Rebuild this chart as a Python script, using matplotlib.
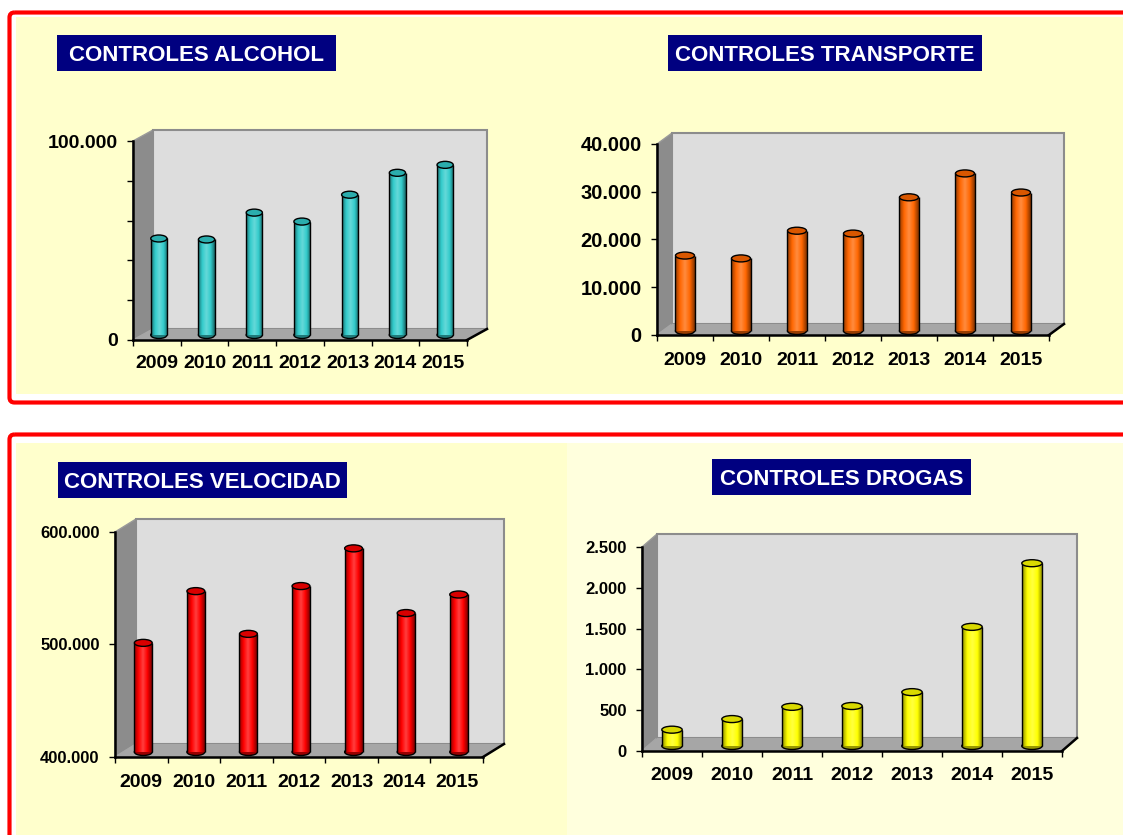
import numpy as np
import matplotlib.pyplot as plt
from matplotlib.patches import Rectangle, Ellipse, Polygon, FancyBboxPatch
from matplotlib.colors import LinearSegmentedColormap

plt.rcParams['font.family'] = ['Liberation Sans', 'DejaVu Sans']
plt.rcParams['font.weight'] = 'bold'

# data
years = ['2009', '2010', '2011', '2012', '2013', '2014', '2015']
alcohol = [48500, 48000, 61500, 57000, 70500, 81500, 85500]
transporte = [15800, 15200, 21000, 20400, 28000, 33000, 29000]
velocidad = [497000, 543000, 505000, 547500, 581000, 523500, 540000]
drogas = [200, 330, 480, 490, 660, 1460, 2240]

alcohol_ticks = [0, 20000, 40000, 60000, 80000, 100000]
alcohol_labels = ['0', '', '', '', '', '100.000']
transporte_ticks = [0, 10000, 20000, 30000, 40000]
transporte_labels = ['0', '10.000', '20.000', '30.000', '40.000']
velocidad_ticks = [400000, 500000, 600000]
velocidad_labels = ['400.000', '500.000', '600.000']
drogas_ticks = [0, 500, 1000, 1500, 2000, 2500]
drogas_labels = ['0', '500', '1.000', '1.500', '2.000', '2.500']

W, H = 1123, 835
fig = plt.figure(figsize=(W / 100, H / 100), dpi=100)

# background axes in pixel coords
bg = fig.add_axes([0, 0, 1, 1])
bg.set_xlim(0, W)
bg.set_ylim(H, 0)
bg.axis('off')
bg.add_patch(Rectangle((16, 17), W, 377, color='#FFFFCC', lw=0))
bg.add_patch(Rectangle((16, 443), 551, 400, color='#FFFFCC', lw=0))
bg.add_patch(Rectangle((567, 443), W, 400, color='#FFFFDD', lw=0))
for top, hgt in [(12.5, 390), (434.5, 500)]:
    bg.add_patch(FancyBboxPatch((9.5, top), 1140, hgt, boxstyle='round,pad=0,rounding_size=5',
                                fill=False, edgecolor='#FF0000', lw=3))


def title_box(text, x0, y0, x1, y1):
    bg.add_patch(Rectangle((x0, y0), x1 - x0, y1 - y0, color='#000080', lw=0))
    bg.text((x0 + x1) / 2, (y0 + y1) / 2 + 8, text, color='white', fontsize=16,
            ha='center', va='baseline')


def shade(c, f):
    c = np.array(plt.matplotlib.colors.to_rgb(c))
    if f < 1:
        return tuple(c * f)
    return tuple(c + (1 - c) * (f - 1))


def panel(values, ticks, labels, box, depth, shift, color, ysize, xpad):
    x0, x1, ybot, ytop = box
    wpx, hpx = x1 - x0, ybot - ytop
    ax = fig.add_axes([x0 / W, 1 - ybot / H, wpx / W, hpx / H])
    ymin, ymax = ticks[0], ticks[-1]
    yr = ymax - ymin
    ddx, ddy = depth[0] * 7 / wpx, depth[1] * yr / hpx
    bx, by = shift[0] * 7 / wpx, shift[1] * yr / hpx

    # walls and floor
    ax.add_patch(Polygon([(-0.5, ymin), (-0.5, ymax), (-0.5 + ddx, ymax + ddy), (-0.5 + ddx, ymin + ddy)],
                         closed=True, facecolor='#8C8C8C', edgecolor='#9A9A9A', lw=1, zorder=0, clip_on=False))
    ax.add_patch(Polygon([(-0.5, ymin), (6.5, ymin), (6.5 + ddx, ymin + ddy), (-0.5 + ddx, ymin + ddy)],
                         closed=True, facecolor='#A6A6A6', edgecolor='#A6A6A6', lw=1, zorder=0, clip_on=False))
    ax.add_patch(Rectangle((-0.5 + ddx, ymin + ddy), 7, yr, facecolor='#DDDDDD', edgecolor='#8C8C8C',
                           lw=1.5, zorder=0.5, clip_on=False))
    ax.add_patch(Polygon([(-0.5 + ddx, ymin + ddy), (6.5 + ddx, ymin + ddy), (6.5, ymin), (-0.5, ymin)],
                         closed=True, facecolor='#A6A6A6', edgecolor='none', zorder=0.6, clip_on=False))
    ax.plot([6.5, 6.5 + ddx], [ymin, ymin + ddy], color='black', lw=1.8, clip_on=False, zorder=6)

    # cylinders
    bw = 0.34
    eh = 7 * yr / hpx
    xs = np.arange(len(values)) + bx
    vals = np.array(values, dtype=float)
    cmap = LinearSegmentedColormap.from_list('cyl', [shade(color, 0.55), color, shade(color, 1.25),
                                                      color, shade(color, 0.5)])
    grad = np.linspace(0, 1, 64).reshape(1, -1)
    bars = ax.bar(xs, vals - ymin, bottom=ymin + by, width=bw, color=color, lw=0, zorder=2)
    for x, v, r in zip(xs, vals, bars):
        im = ax.imshow(grad, extent=[x - bw / 2, x + bw / 2, ymin + by, v + by], cmap=cmap,
                       aspect='auto', interpolation='bilinear', zorder=3)
        im.set_clip_path(r)
        ax.add_patch(Ellipse((x, ymin + by), bw, eh, facecolor=shade(color, 0.6), edgecolor='black',
                             lw=1, zorder=1.5))
        ax.add_patch(Ellipse((x, v + by), bw, eh, facecolor=shade(color, 0.85), edgecolor='black',
                             lw=1, zorder=5))
    ax.vlines(xs - bw / 2, ymin + by, vals + by, color='black', lw=1, zorder=4)
    ax.vlines(xs + bw / 2, ymin + by, vals + by, color='black', lw=1, zorder=4)

    ax.set_xlim(-0.5, 6.5)
    ax.set_ylim(ymin, ymax)
    ax.patch.set_visible(False)
    for s in ['top', 'right']:
        ax.spines[s].set_visible(False)
    for s in ['left', 'bottom']:
        ax.spines[s].set_linewidth(1.8)
        ax.spines[s].set_zorder(6)
    ax.set_yticks(ticks)
    ax.set_yticklabels(labels, fontsize=ysize)
    ax.tick_params(axis='y', length=4, width=1, pad=7)
    ax.set_xticks(np.arange(-0.5, 7, 1))
    ax.set_xticklabels([])
    ax.set_xticks(np.arange(7), minor=True)
    ax.set_xticklabels(years, minor=True, fontsize=14)
    ax.tick_params(axis='x', which='major', length=4, width=1)
    ax.tick_params(axis='x', which='minor', length=0, pad=xpad)
    return ax


panel(alcohol, alcohol_ticks, alcohol_labels, (133, 467, 340, 141), (20, 11), (2, 5), '#33CCCC', 14, 11)
panel(transporte, transporte_ticks, transporte_labels, (657, 1049, 335, 144), (15, 11), (0, 4), '#FF6600', 14.5, 12.5)
panel(velocidad, velocidad_ticks, velocidad_labels, (115, 483, 757, 532), (21, 13), (2, 5), '#FF0000', 12, 12.5)
panel(drogas, drogas_ticks, drogas_labels, (642, 1062, 751, 547), (15, 13), (0, 5), '#FFFF00', 12, 11.5)

title_box('CONTROLES ALCOHOL', 57, 35, 336, 71)
title_box('CONTROLES TRANSPORTE', 668, 35, 982, 71)
title_box('CONTROLES VELOCIDAD', 58, 462, 347, 498)
title_box('CONTROLES DROGAS', 712, 459, 971, 495)

fig.savefig('out.png', dpi=100)
